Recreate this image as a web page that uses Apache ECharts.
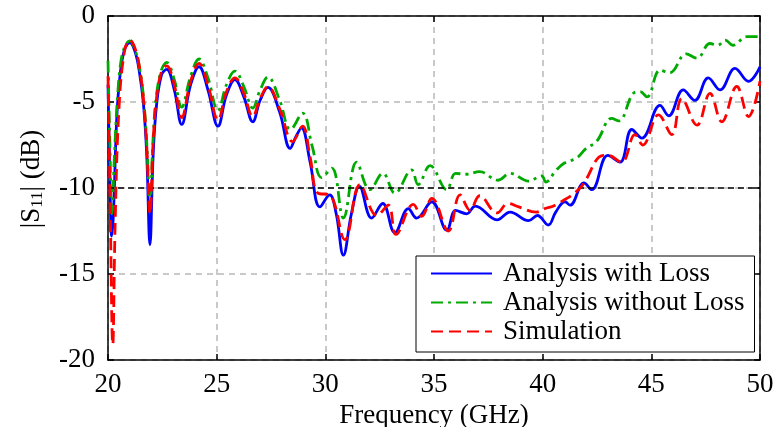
<!DOCTYPE html>
<html><head><meta charset="utf-8">
<script src="https://cdn.jsdelivr.net/npm/echarts@6/dist/echarts.min.js"></script>
<style>html,body{margin:0;padding:0;background:#fff}#c{width:777px;height:427px}</style>
</head><body><div id="c"></div>
<script>
const xTicks = [20, 25, 30, 35, 40, 45, 50];
const yTicks = [0, -5, -10, -15, -20];
const threshold = -10;
const seriesNames = ['Analysis with Loss', 'Analysis without Loss', 'Simulation'];

const lossFreq = [20.0,20.08,20.17,20.25,20.4,20.55,20.75,21.0,21.25,21.45,21.63,21.78,21.93,22.08,22.24,22.47,22.7,23.05,23.39,23.8,24.19,24.6,25.06,25.45,25.84,26.25,26.66,27.0,27.36,27.9,28.38,28.65,28.9,29.3,29.75,30.2,30.5,30.83,31.2,31.57,32.13,32.64,33.2,33.82,34.2,34.9,35.59,36.0,36.5,36.9,37.9,38.5,39.35,39.76,40.26,40.6,41.03,41.26,41.9,42.26,43.0,43.56,44.1,44.56,45.4,45.8,46.47,47.0,47.62,48.16,48.85,49.47,50.0];
const lossDB = [-4.0,-9.0,-12.8,-11.5,-6.0,-3.5,-2.0,-1.55,-2.1,-3.3,-5.1,-8.0,-13.3,-8.0,-5.1,-3.4,-3.1,-4.3,-6.3,-4.0,-2.95,-4.3,-6.4,-4.6,-3.7,-4.7,-6.15,-4.9,-4.15,-5.6,-7.7,-7.0,-6.5,-8.5,-11.1,-10.4,-11.5,-13.9,-11.5,-9.9,-11.75,-10.9,-12.6,-11.2,-11.75,-10.8,-12.45,-11.3,-11.5,-11.05,-11.85,-11.4,-11.9,-11.6,-12.15,-11.4,-10.8,-11.0,-9.7,-10.1,-8.1,-8.5,-6.6,-7.1,-5.2,-5.8,-4.3,-4.9,-3.6,-4.3,-3.05,-3.8,-2.95];

const noLossFreq = [20.0,20.08,20.18,20.3,20.45,20.6,20.8,21.0,21.25,21.45,21.63,21.78,21.93,22.08,22.24,22.47,22.7,23.05,23.39,23.8,24.19,24.6,25.06,25.45,25.84,26.25,26.66,27.0,27.36,27.9,28.4,28.95,29.4,29.83,30.3,30.83,31.44,32.05,32.65,33.2,33.97,34.27,34.82,35.59,36.0,36.5,37.1,37.95,38.5,39.35,39.95,40.15,40.6,41.0,41.57,42.0,42.48,43.18,43.5,44.17,44.48,44.8,45.4,45.85,46.6,47.1,47.7,48.05,48.4,48.75,49.4,50.0];
const noLossDB = [-2.6,-7.0,-11.5,-8.0,-4.5,-2.6,-1.7,-1.45,-2.0,-3.0,-4.7,-7.3,-10.8,-7.0,-4.5,-3.1,-2.7,-3.7,-5.3,-3.5,-2.5,-3.6,-5.5,-4.0,-3.2,-4.1,-5.35,-4.3,-3.55,-4.9,-6.6,-5.65,-7.6,-9.4,-8.85,-11.75,-8.5,-10.1,-9.15,-10.3,-8.95,-9.8,-8.7,-10.1,-9.15,-9.2,-9.05,-9.55,-9.15,-9.6,-9.3,-9.65,-9.0,-8.55,-8.25,-7.7,-7.3,-5.95,-6.1,-4.5,-4.4,-4.7,-3.15,-3.3,-2.2,-2.45,-1.6,-1.7,-1.4,-1.7,-1.2,-1.2];

const simFreq = [20.0,20.1,20.22,20.33,20.5,20.75,21.0,21.25,21.45,21.63,21.78,21.93,22.08,22.24,22.47,22.7,23.05,23.39,23.8,24.19,24.6,25.06,25.45,25.84,26.25,26.66,27.0,27.36,27.9,28.5,28.95,29.3,29.66,30.2,30.9,31.6,32.37,32.9,33.25,34.05,34.43,34.9,35.66,36.2,36.66,37.1,37.9,38.4,38.9,39.7,40.1,40.57,41.72,42.8,43.0,43.63,44.25,44.6,45.33,45.94,46.4,47.1,47.7,48.24,48.93,49.47,50.0];
const simDB = [-3.5,-11.0,-19.1,-12.0,-5.5,-2.1,-1.4,-1.9,-3.0,-4.8,-7.5,-11.5,-7.2,-4.7,-3.2,-2.9,-4.0,-5.9,-3.8,-2.75,-4.0,-6.05,-4.4,-3.6,-4.5,-5.85,-4.8,-4.1,-5.4,-7.3,-6.4,-8.2,-10.3,-10.4,-13.0,-9.8,-11.6,-11.0,-12.7,-10.95,-11.65,-10.6,-12.5,-10.4,-11.3,-10.45,-11.45,-10.9,-11.1,-11.4,-11.2,-11.0,-10.0,-8.1,-8.1,-8.5,-6.9,-7.5,-5.75,-6.9,-4.8,-6.35,-4.5,-6.15,-4.1,-5.85,-3.8];

const zip = (a, b) => a.map((v, i) => [v, b[i]]);
const FONT = '"Liberation Serif", "Times New Roman", serif';
const xMin = xTicks[0], xMax = xTicks[xTicks.length - 1];
const yMin = yTicks[yTicks.length - 1], yMax = yTicks[0];
const gridDash = { show: true, lineStyle: { color: '#b8b8b8', width: 1.5, type: [6, 5] } };

const chart = echarts.init(document.getElementById('c'), null, { renderer: 'canvas' });
chart.setOption({
  animation: false,
  backgroundColor: '#fff',
  grid: { left: 108, right: 17, top: 16, bottom: 67, containLabel: false, outerBoundsMode: 'none' },
  legend: {
    data: seriesNames,
    orient: 'vertical',
    left: 416, top: 256,
    itemWidth: 61, itemHeight: 14, itemGap: 0,
    padding: [3, 10, 6, 14],
    borderColor: '#000', borderWidth: 1, backgroundColor: '#fff',
    itemStyle: { opacity: 0 },
    textStyle: { fontFamily: FONT, fontSize: 27, color: '#000', lineHeight: 29, padding: [0, 0, 0, 6] }
  },
  xAxis: [{
    type: 'value', min: xMin, max: xMax, interval: 5,
    name: 'Frequency (GHz)', nameLocation: 'middle', nameGap: 32,
    nameTextStyle: { fontFamily: FONT, fontSize: 27, color: '#000' },
    axisLine: { show: true, onZero: false, lineStyle: { color: '#000', width: 1.5 } },
    axisTick: { show: true, inside: true, length: 6, lineStyle: { color: '#000', width: 1.5 } },
    axisLabel: { fontFamily: FONT, fontSize: 27, color: '#000', margin: 11 },
    splitLine: gridDash
  }, {
    type: 'value', min: xMin, max: xMax, interval: 5, position: 'top',
    axisLine: { show: true, onZero: false, lineStyle: { color: '#000', width: 1.5 } },
    axisTick: { show: true, inside: true, length: 6, lineStyle: { color: '#000', width: 1.5 } },
    axisLabel: { show: false }, splitLine: { show: false }
  }],
  yAxis: [{
    type: 'value', min: yMin, max: yMax, interval: 5,
    name: '|S{sub|11}| (dB)', nameLocation: 'middle', nameGap: 62, nameRotate: 90,
    nameTextStyle: { fontFamily: FONT, fontSize: 27, color: '#000', padding: [0, 0, 0, 18],
      rich: { sub: { fontFamily: FONT, fontSize: 17, color: '#000', padding: [12, 0, 0, 0] } } },
    axisLine: { show: true, onZero: false, lineStyle: { color: '#000', width: 1.5 } },
    axisTick: { show: true, inside: true, length: 6, lineStyle: { color: '#000', width: 1.5 } },
    axisLabel: { fontFamily: FONT, fontSize: 27, color: '#000', margin: 13 },
    splitLine: gridDash
  }, {
    type: 'value', min: yMin, max: yMax, interval: 5, position: 'right',
    axisLine: { show: true, onZero: false, lineStyle: { color: '#000', width: 1.5 } },
    axisTick: { show: true, inside: true, length: 6, lineStyle: { color: '#000', width: 1.5 } },
    axisLabel: { show: false }, splitLine: { show: false }
  }],
  series: [{
    name: seriesNames[0], type: 'line', data: zip(lossFreq, lossDB),
    symbol: 'none', smooth: 0.4, z: 3,
    lineStyle: { color: '#0000ff', width: 2.8, type: 'solid' },
    itemStyle: { color: '#0000ff' },
    markLine: {
      silent: true, symbol: ['none', 'none'], label: { show: false },
      lineStyle: { color: '#000', width: 1.5, type: [6, 4] },
      data: [{ yAxis: threshold }]
    }
  }, {
    name: seriesNames[1], type: 'line', data: zip(noLossFreq, noLossDB),
    symbol: 'none', smooth: 0.4, z: 4,
    lineStyle: { color: '#00aa00', width: 2.8, type: [12, 5, 3, 5] },
    itemStyle: { color: '#00aa00' }
  }, {
    name: seriesNames[2], type: 'line', data: zip(simFreq, simDB),
    symbol: 'none', smooth: 0.4, z: 5,
    lineStyle: { color: '#ff0000', width: 2.8, type: [12, 6] },
    itemStyle: { color: '#ff0000' }
  }]
});
</script>
</body></html>
